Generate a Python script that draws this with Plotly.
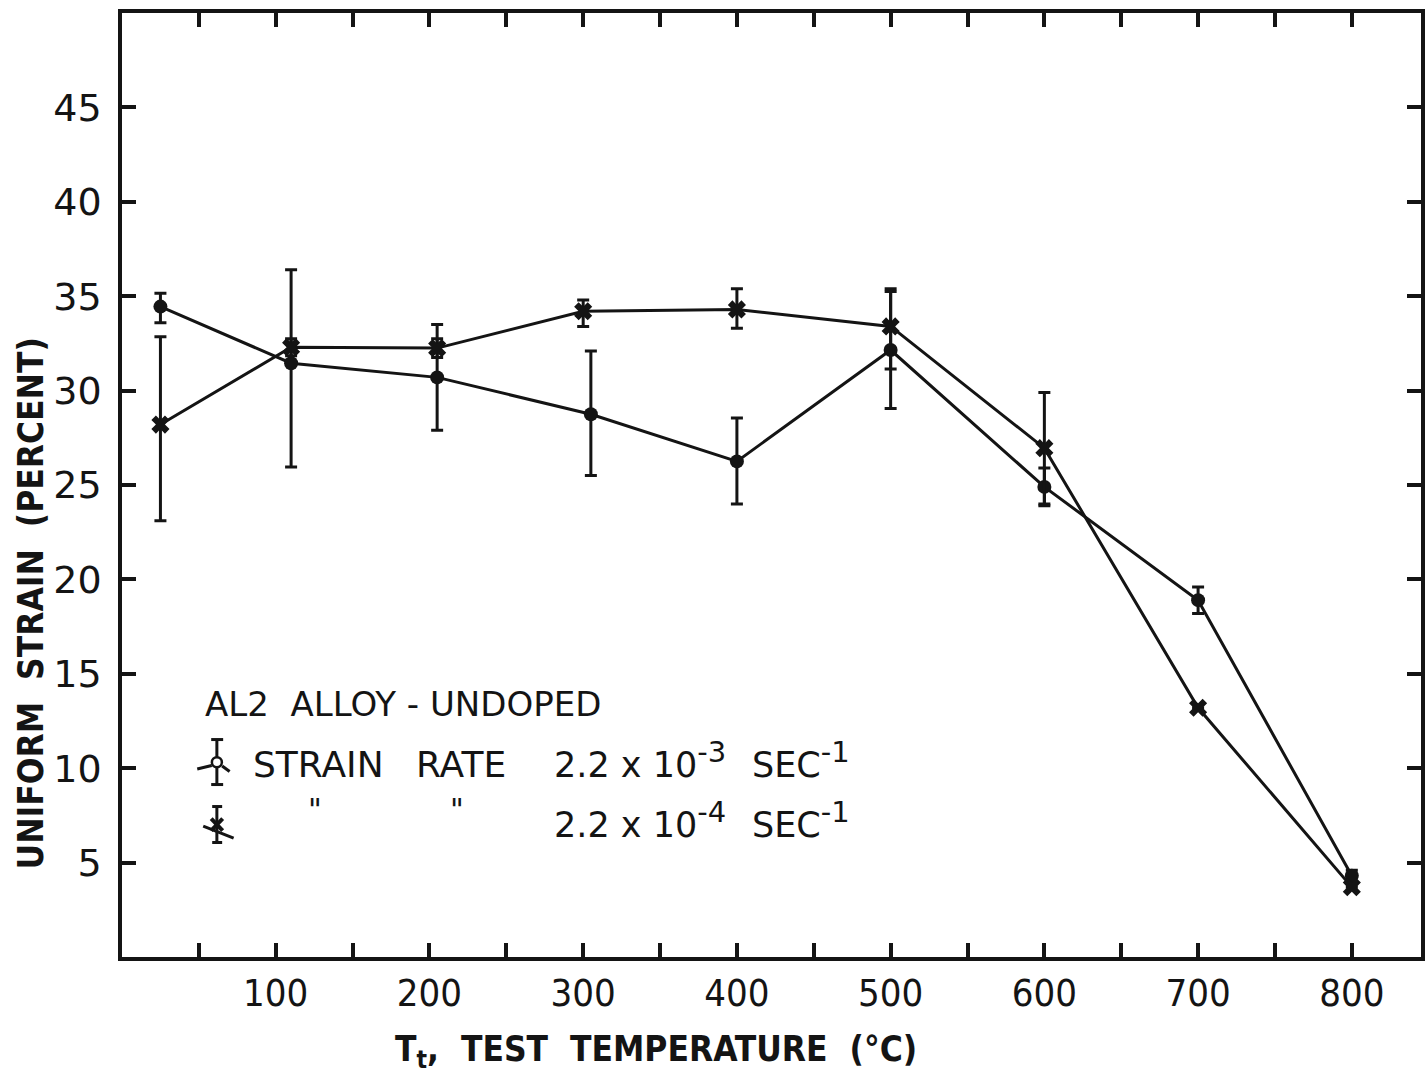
import plotly.graph_objects as go

# ---- data ----
temp_fast = [25, 110, 205, 305, 400, 500, 600, 700, 800]          # strain rate 2.2e-3 (circles)
strain_fast = [34.45, 31.45, 30.7, 28.75, 26.25, 32.15, 24.9, 18.9, 4.3]
err_fast_plus = [0.7, 4.95, 2.8, 3.35, 2.3, 3.1, 1.0, 0.7, 0.3]
err_fast_minus = [0.85, 5.5, 2.8, 3.25, 2.25, 3.1, 1.0, 0.7, 0.3]

temp_slow = [25, 110, 205, 300, 400, 500, 600, 700, 800]          # strain rate 2.2e-4 (crosses)
strain_slow = [28.2, 32.3, 32.25, 34.2, 34.3, 33.4, 26.95, 13.2, 3.7]
err_slow_plus = [4.65, 0.45, 0.5, 0.6, 1.1, 2.0, 2.95, 0.0, 0.0]
err_slow_minus = [5.1, 0.45, 0.5, 0.8, 1.0, 2.25, 2.95, 0.0, 0.0]

x_ticks = list(range(50, 801, 50))
x_labels = [str(v) if v % 100 == 0 else "" for v in x_ticks]
y_ticks = list(range(5, 46, 5))
y_labels = [str(v) for v in y_ticks]

INK = "#141414"
W, H = 1425, 1083
L, R, T, B = 121.5, 1425.0, 13.3, 957.5


def px(x):
    return (x - L) / (R - L)


def py(y):
    return (B - y) / (B - T)


fig = go.Figure()

fig.add_trace(go.Scatter(
    x=temp_fast, y=strain_fast, mode="lines+markers",
    line=dict(color=INK, width=3),
    marker=dict(symbol="circle", size=14, color=INK),
    error_y=dict(type="data", symmetric=False, array=err_fast_plus,
                 arrayminus=err_fast_minus, color=INK, thickness=3, width=6),
    showlegend=False,
))
fig.add_trace(go.Scatter(
    x=temp_slow, y=strain_slow, mode="lines+markers",
    line=dict(color=INK, width=3),
    marker=dict(symbol="x", size=16, color=INK, line=dict(width=0)),
    error_y=dict(type="data", symmetric=False, array=err_slow_plus,
                 arrayminus=err_slow_minus, color=INK, thickness=3, width=6),
    showlegend=False,
))

CONDENSED = "DejaVu Sans Condensed, DejaVu Sans, sans-serif"
REGULAR = "DejaVu Sans, sans-serif"

fig.update_layout(
    width=W, height=H,
    margin=dict(l=L, r=W - R, t=T, b=H - B, pad=0),
    paper_bgcolor="white", plot_bgcolor="white",
    xaxis=dict(range=[0, 845], tickmode="array", tickvals=x_ticks, ticktext=x_labels,
               ticks="inside", ticklen=14, tickwidth=3.5, tickcolor=INK,
               showline=True, linewidth=3.5, linecolor=INK, mirror="ticks",
               showgrid=False, zeroline=False, ticklabelstandoff=0,
               tickfont=dict(family=CONDENSED, size=38, color=INK)),
    yaxis=dict(range=[0, 50], tickmode="array", tickvals=y_ticks, ticktext=y_labels,
               ticks="inside", ticklen=14, tickwidth=3.5, tickcolor=INK,
               showline=True, linewidth=3.5, linecolor=INK, mirror="ticks",
               showgrid=False, zeroline=False, ticklabelstandoff=9,
               tickfont=dict(family=REGULAR, size=38, color=INK)),
)

SUP = '<sup><span style="font-size:29px">{}</span></sup>'

ann = [
    dict(text="UNIFORM  STRAIN  (PERCENT)", x=px(30), y=py(604), textangle=-90,
         font=dict(family=CONDENSED, size=35, color=INK, weight="bold"),
         xanchor="center", yanchor="middle"),
    dict(text="T<sub>t</sub>,  TEST  TEMPERATURE  (°C)", x=px(657), y=py(1052),
         font=dict(family=CONDENSED, size=35, color=INK, weight="bold"),
         xanchor="center", yanchor="middle"),
    dict(text="AL2  ALLOY - UNDOPED", x=px(203), y=py(704),
         font=dict(family=REGULAR, size=34, color=INK), xanchor="left", yanchor="middle"),
    dict(text="STRAIN", x=px(251), y=py(765),
         font=dict(family=REGULAR, size=36, color=INK), xanchor="left", yanchor="middle"),
    dict(text="RATE", x=px(415), y=py(765),
         font=dict(family=REGULAR, size=36, color=INK), xanchor="left", yanchor="middle"),
    dict(text="2.2 x 10" + SUP.format("-3"), x=px(553), y=py(760),
         font=dict(family=REGULAR, size=35, color=INK), xanchor="left", yanchor="middle"),
    dict(text="SEC" + SUP.format("-1"), x=px(752), y=py(760),
         font=dict(family=REGULAR, size=35, color=INK), xanchor="left", yanchor="middle"),
    dict(text="\"", x=px(315), y=py(810),
         font=dict(family=REGULAR, size=30, color=INK), xanchor="center", yanchor="middle"),
    dict(text="\"", x=px(458), y=py(810),
         font=dict(family=REGULAR, size=30, color=INK), xanchor="center", yanchor="middle"),
    dict(text="2.2 x 10" + SUP.format("-4"), x=px(553), y=py(820),
         font=dict(family=REGULAR, size=35, color=INK), xanchor="left", yanchor="middle"),
    dict(text="SEC" + SUP.format("-1"), x=px(752), y=py(820),
         font=dict(family=REGULAR, size=35, color=INK), xanchor="left", yanchor="middle"),
]
for a in ann:
    a.update(xref="paper", yref="paper", showarrow=False)
fig.update_layout(annotations=ann)


def seg(x0, y0, x1, y1, w=3):
    return dict(type="line", xref="paper", yref="paper",
                x0=px(x0), y0=py(y0), x1=px(x1), y1=py(y1),
                line=dict(color=INK, width=w))


shapes = [
    # legend key 1 (circle with error bar)
    seg(216.7, 740, 216.7, 785), seg(211, 740, 223, 740), seg(211, 785, 223, 785),
    seg(197, 769.5, 211.5, 766), seg(222, 766.5, 229.5, 772),
    dict(type="circle", xref="paper", yref="paper",
         x0=px(211.7), x1=px(221.7), y0=py(757.7), y1=py(767.7),
         line=dict(color=INK, width=2.5), fillcolor="white"),
    # legend key 2 (cross with error bar)
    seg(216.7, 807, 216.7, 843), seg(212, 807, 222, 807), seg(212, 843, 222, 843),
    seg(203, 826.5, 233.5, 838.5),
    seg(211, 819, 222.5, 831, 4), seg(222.5, 819, 211, 831, 4),
]
fig.update_layout(shapes=shapes)

fig.write_html("out.html")
